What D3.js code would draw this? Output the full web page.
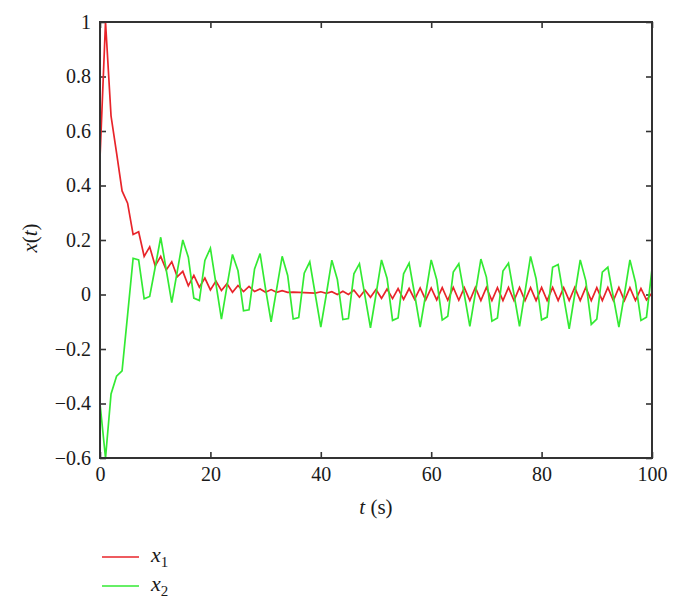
<!DOCTYPE html>
<html>
<head>
<meta charset="utf-8">
<script src="https://cdn.jsdelivr.net/npm/d3@7"></script>
<style>
  html, body { margin: 0; padding: 0; background: #fff; }
  svg { display: block; }
</style>
</head>
<body>
<script>
// ---- data ----
const tValues = d3.range(0, 101);
const x1Values = [
  0.50, 1.00, 0.655, 0.52, 0.38, 0.335, 0.22, 0.23, 0.14, 0.175,
  0.105, 0.14, 0.09, 0.12, 0.065, 0.085, 0.032, 0.07, 0.027, 0.06,
  0.017, 0.049, 0.015, 0.04, 0.008, 0.033, 0.011, 0.03, 0.011, 0.02,
  0.008, 0.018, 0.008, 0.014, 0.008, 0.009, 0.008, 0.007, 0.006, 0.005,
  0.010, 0.004, 0.010, 0.000, 0.012, 0.000, 0.016, -0.010, 0.016, -0.010,
  0.018, -0.014, 0.020, -0.015, 0.022, -0.018, 0.022, -0.018, 0.024, -0.020,
  0.024, -0.020, 0.025, -0.021, 0.026, -0.021, 0.025, -0.022, 0.026, -0.022,
  0.026, -0.022, 0.025, -0.022, 0.026, -0.022, 0.026, -0.022, 0.025, -0.022,
  0.026, -0.022, 0.026, -0.022, 0.025, -0.022, 0.026, -0.022, 0.026, -0.022,
  0.025, -0.022, 0.026, -0.022, 0.026, -0.022, 0.025, -0.022, 0.022, -0.020,
  0.005
];
const x2Values = [
  -0.40, -0.60, -0.365, -0.30, -0.28, -0.075, 0.133, 0.127, -0.016, -0.007,
  0.10, 0.21, 0.09, -0.03, 0.085, 0.20, 0.137, -0.013, -0.022, 0.125,
  0.17, 0.04, -0.09, 0.03, 0.147, 0.087, -0.06, -0.056, 0.094, 0.15,
  0.02, -0.10, 0.02, 0.14, 0.07, -0.09, -0.085, 0.078, 0.12, 0.0,
  -0.12, 0.0, 0.126, 0.055, -0.092, -0.088, 0.076, 0.113, -0.005, -0.122,
  0.0, 0.127, 0.06, -0.095, -0.086, 0.076, 0.115, 0.0, -0.12, 0.0,
  0.127, 0.054, -0.094, -0.08, 0.082, 0.113, 0.0, -0.117, 0.005, 0.13,
  0.064, -0.098, -0.086, 0.086, 0.115, 0.0, -0.117, 0.01, 0.14, 0.058,
  -0.093, -0.083, 0.10, 0.11, -0.01, -0.126, 0.0, 0.127, 0.051, -0.11,
  -0.09, 0.082, 0.10, -0.01, -0.12, 0.0, 0.127, 0.045, -0.095, -0.083,
  0.094
];
const xTickValues = [0, 20, 40, 60, 80, 100];
const xTickLabels = ["0", "20", "40", "60", "80", "100"];
const yTickValues = [-0.6, -0.4, -0.2, 0, 0.2, 0.4, 0.6, 0.8, 1];
const yTickLabels = ["\u22120.6", "\u22120.4", "\u22120.2", "0", "0.2", "0.4", "0.6", "0.8", "1"];
const seriesNames = ["1", "2"];
const seriesColors = ["#e8242a", "#33ea33"];

// ---- layout ----
const W = 680, H = 607;
const mL = 100, mR = 652, mT = 22, mB = 458;
const FONT = "'Liberation Serif', 'Times New Roman', 'DejaVu Serif', serif";

const svg = d3.select("body").append("svg").attr("width", W).attr("height", H)
  .attr("font-family", FONT);

const x = d3.scaleLinear().domain([0, 100]).range([mL, mR]);
const y = d3.scaleLinear().domain([-0.6, 1]).range([mB, mT]);

const axisColor = "#333";
const tickLen = 6;

function styleAxis(g) {
  g.attr("font-family", FONT).attr("font-size", 20);
  g.select(".domain").remove();
  g.selectAll(".tick line").attr("stroke", axisColor).attr("stroke-width", 1.6);
  g.selectAll(".tick text").attr("font-family", FONT).attr("font-size", 20).attr("fill", "#1a1a1a");
}

// bottom
svg.append("g").attr("transform", `translate(0,${mB})`)
  .call(d3.axisBottom(x).tickValues(xTickValues)
    .tickFormat((d, i) => xTickLabels[i]).tickSizeInner(-tickLen).tickSizeOuter(0).tickPadding(9))
  .call(styleAxis);
// top
svg.append("g").attr("transform", `translate(0,${mT})`)
  .call(d3.axisTop(x).tickValues(xTickValues).tickFormat("").tickSizeInner(-tickLen).tickSizeOuter(0))
  .call(styleAxis);
// left
svg.append("g").attr("transform", `translate(${mL},0)`)
  .call(d3.axisLeft(y).tickValues(yTickValues)
    .tickFormat((d, i) => yTickLabels[i]).tickSizeInner(-tickLen).tickSizeOuter(0).tickPadding(9))
  .call(styleAxis);
// right
svg.append("g").attr("transform", `translate(${mR},0)`)
  .call(d3.axisRight(y).tickValues(yTickValues).tickFormat("").tickSizeInner(-tickLen).tickSizeOuter(0))
  .call(styleAxis);

// ---- lines ----
const line = d3.line().x((d, i) => x(tValues[i])).y(d => y(d));
[x1Values, x2Values].forEach((vals, k) => {
  svg.append("path").datum(vals)
    .attr("d", line)
    .attr("fill", "none")
    .attr("stroke", seriesColors[k])
    .attr("stroke-width", 1.7)
    .attr("stroke-linejoin", "miter");
});

// frame
svg.append("rect")
  .attr("x", mL).attr("y", mT)
  .attr("width", mR - mL).attr("height", mB - mT)
  .attr("fill", "none").attr("stroke", axisColor).attr("stroke-width", 2);

// ---- axis titles ----
const xt = svg.append("text").attr("x", (mL + mR) / 2).attr("y", 514)
  .attr("text-anchor", "middle").attr("font-size", 21).attr("fill", "#1a1a1a");
xt.append("tspan").attr("font-style", "italic").text("t");
xt.append("tspan").text(" (s)");

const yt = svg.append("text")
  .attr("transform", `translate(37,${(mT + mB) / 2 - 2}) rotate(-90)`)
  .attr("text-anchor", "middle").attr("font-size", 21).attr("fill", "#1a1a1a");
yt.append("tspan").attr("font-style", "italic").text("x");
yt.append("tspan").text("(");
yt.append("tspan").attr("font-style", "italic").text("t");
yt.append("tspan").text(")");

// ---- legend ----
const legendY = [557, 586];
seriesNames.forEach((name, k) => {
  svg.append("line")
    .attr("x1", 102).attr("x2", 139)
    .attr("y1", legendY[k]).attr("y2", legendY[k])
    .attr("stroke", seriesColors[k]).attr("stroke-width", 1.6);
  const t = svg.append("text").attr("x", 151).attr("y", legendY[k] + 5)
    .attr("font-size", 22).attr("fill", "#1a1a1a");
  t.append("tspan").attr("font-style", "italic").text("x");
  t.append("tspan").attr("dy", 5).attr("font-size", 15).text(name);
});
</script>
</body>
</html>
